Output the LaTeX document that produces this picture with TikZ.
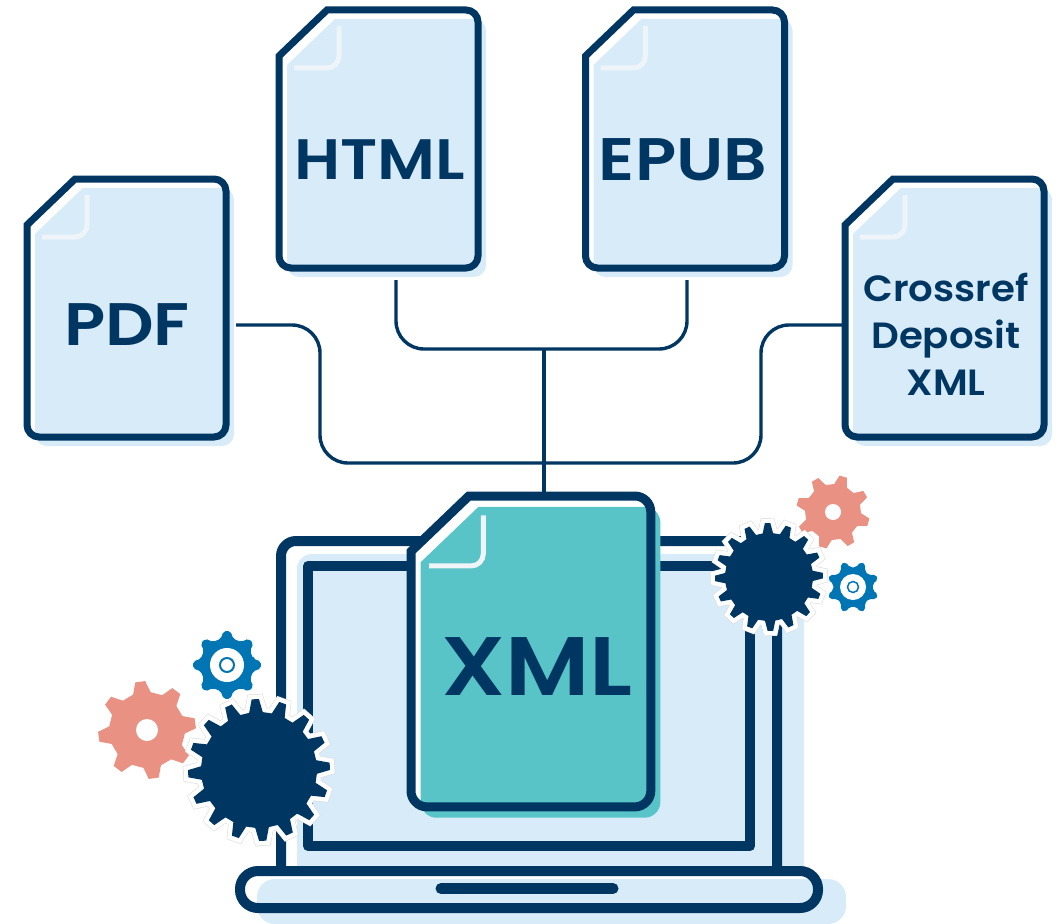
\documentclass[tikz,border=0pt]{standalone}
\usepackage{fontspec}
\usepackage{tikz}
\usetikzlibrary{positioning,calc}
\newfontfamily\sheetfont[FakeStretch=1.13]{Poppins SemiBold}
\newfontfamily\smallsheetfont[FakeStretch=1.06]{Poppins SemiBold}
\definecolor{navy}{RGB}{0,54,98}
\definecolor{paleblue}{RGB}{216,235,249}
\definecolor{teal}{RGB}{88,196,200}
\definecolor{salmon}{RGB}{233,146,131}
\definecolor{midblue}{RGB}{0,117,180}
\definecolor{foldline}{RGB}{238,244,248}
\definecolor{halogray}{RGB}{215,215,215}
\tikzset{
  wire/.style={draw=navy, line width=3.4pt, rounded corners=28pt},
  lidline/.style={draw=navy, line width=10pt},
  sheetlabel/.style={text=navy, inner sep=0pt, align=center, font=\sheetfont\fontsize{57}{57}\selectfont},
  widelabel/.style={sheetlabel, font=\sheetfont\fontsize{60}{60}\selectfont},
  smalllabel/.style={sheetlabel, font=\smallsheetfont\fontsize{36.5}{47}\selectfont},
  xmllabel/.style={sheetlabel, font=\sheetfont\fontsize{83}{83}\selectfont},
}
% sheet: x, y, scale, fill colour, line width, corner radius
\newcommand{\docsheet}[6]{%
  \begin{scope}[shift={(#1,#2)}, scale=#3]
    \fill[white] (0,46) -- (48,0) -- (199,0) -- (199,258) -- (0,258) -- cycle;
    \fill[#4, shift={(8,9)}] (0,46) -- (48,0) [rounded corners=#6pt] -- (199,0) -- (199,258) -- (0,258) [sharp corners] -- cycle;
    \draw[foldline, line width=5pt, rounded corners=12pt] (15,58) -- (60,58) -- (60,16);
    \draw[navy, line width=#5pt, line join=miter] (0,46) -- (48,0) [rounded corners=#6pt] -- (199,0) -- (199,258) -- (0,258) [sharp corners] -- cycle;
  \end{scope}
}
% gear: options, centre, teeth, tip radius, root radius, rotation
\newcommand{\gear}[6]{%
  \pgfmathsetmacro{\gearpitch}{360/#3}
  \pgfmathtruncatemacro{\gearlast}{#3-1}
  \path[#1, shift={#2}] (#6-0.30*\gearpitch:#5)
    \foreach \k [evaluate=\k as \a using #6+\k*\gearpitch] in {0,...,\gearlast} {
      -- (\a-0.30*\gearpitch:#5) -- (\a-0.13*\gearpitch:#4) -- (\a+0.13*\gearpitch:#4) -- (\a+0.30*\gearpitch:#5)
    } -- cycle;
}
\begin{document}
\begin{tikzpicture}[x=1pt, y=-1pt]
\useasboundingbox (0,0) rectangle (1056,923);

% Laptop
\fill[paleblue, rounded corners=15pt] (297,554) rectangle (804,895);
\draw[lidline, rounded corners=15pt] (281,875) -- (281,541) -- (777,541) -- (777,875);
\draw[lidline, line join=round] (308,566) rectangle (750,846);
\fill[white, rounded corners=18pt] (240,871) rectangle (818,908);
\fill[paleblue, rounded corners=18pt] (257,879) rectangle (846,924);
\draw[lidline, rounded corners=18pt] (240,871) rectangle (818,908);
\draw[navy, line width=11pt, line cap=round] (441,888.5) -- (613,888.5);

% Sheets
\docsheet{27}{179}{1}{paleblue}{7}{12}
\docsheet{279}{10}{1}{paleblue}{7}{12}
\docsheet{585.5}{10}{1}{paleblue}{7}{12}
\docsheet{845}{179}{1}{paleblue}{7}{12}
\docsheet{411}{496}{1.205}{teal}{9}{16}

% Labels
\node[widelabel, minimum width=218pt, minimum height=60pt] (pdf) at (127,325) {PDF};
\node[sheetlabel, minimum height=240pt] (html) at (380,160) {HTML};
\node[widelabel, minimum height=240pt] (epub) at (683,160) {EPUB};
\node[smalllabel, minimum width=206pt] (crossref) at (946,334) {Crossref\\Deposit\\XML};
\node[xmllabel, minimum height=350pt] (xml) at (537,667) {XML};

% Connectors
\coordinate (busleft) at (320,463);
\coordinate (busright) at (761,463);
\coordinate (hub) at (544,349);
\draw[wire] (pdf.east) -| (busleft) -- (busright) |- (crossref.west |- pdf.east);
\draw[wire] ([xshift=16pt]html.south) |- (hub) -| ([xshift=4pt]epub.south);
\draw[wire] (hub) -- ([xshift=7pt]xml.north);

% Gears, left
\gear{fill=salmon}{(147,730)}{8}{49}{38}{-8}
\fill[white] (147,730) circle (11);
\gear{fill=midblue, rounded corners=2pt}{(227,665)}{8}{34}{27}{0}
\fill[white] (227,665) circle (17);
\draw[midblue, line width=2pt, fill=white] (227,665) circle (7);
\gear{draw=halogray, line width=10pt, line join=miter}{(259,770)}{16}{71}{58}{-3}
\gear{draw=white, line width=9pt, line join=miter}{(259,770)}{16}{71}{58}{-3}
\gear{fill=navy}{(259,770)}{16}{71}{58}{-3}

% Gears, right
\gear{fill=salmon}{(833,512)}{8}{37}{28}{16}
\fill[white] (833,512) circle (8);
\gear{fill=midblue, rounded corners=2pt}{(853,587)}{8}{26}{20}{22.5}
\fill[white] (853,587) circle (13);
\draw[midblue, line width=1.5pt, fill=white] (853,587) circle (5.5);
\gear{draw=halogray, line width=10pt, line join=miter}{(769,577)}{16}{54}{44}{-1.5}
\gear{draw=white, line width=9pt, line join=miter}{(769,577)}{16}{54}{44}{-1.5}
\gear{fill=navy}{(769,577)}{16}{54}{44}{-1.5}
\end{tikzpicture}
\end{document}
